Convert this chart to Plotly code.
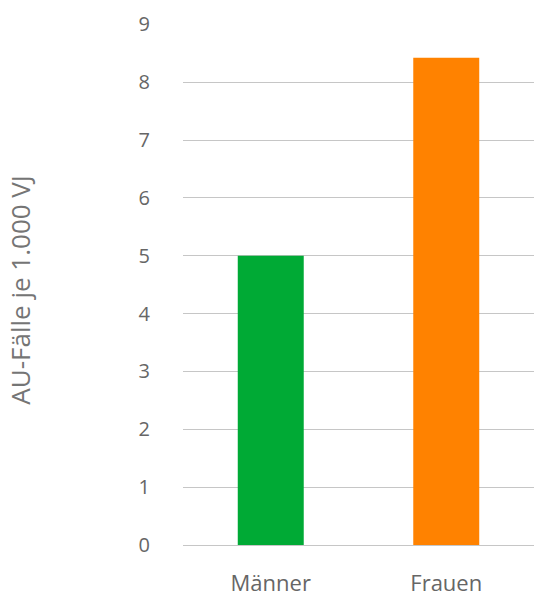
import plotly.graph_objects as go

categories = ["Männer", "Frauen"]
values = [5.0, 8.42]
colors = ["#00aa35", "#ff8200"]
y_title = "AU-Fälle je 1.000 VJ"

W, H = 534, 598
L, R, T, B = 183, 0, 24, 53

fig = go.Figure(go.Bar(x=categories, y=values, marker=dict(color=colors, line=dict(width=0)), width=0.376))

fig.update_layout(
    template="none",
    width=W, height=H,
    margin=dict(l=L, r=R, t=T, b=B, autoexpand=False),
    plot_bgcolor="white", paper_bgcolor="white",
    showlegend=False,
    font=dict(family="Open Sans, Noto Sans, sans-serif", color="#666666", size=20),
)
fig.update_yaxes(
    range=[0, 9.005], dtick=1, tick0=0,
    showgrid=True, gridcolor="#c6c6c6", gridwidth=1,
    zeroline=True, zerolinecolor="#c6c6c6", zerolinewidth=1,
    showline=False, automargin=False,
    ticks="outside", ticklen=28, tickcolor="rgba(0,0,0,0)",
    tickfont=dict(size=20, color="#666666"),
    fixedrange=True,
)
fig.update_xaxes(
    showgrid=False, showline=False, automargin=False,
    ticks="outside", ticklen=19, tickcolor="rgba(0,0,0,0)",
    tickfont=dict(size=22, color="#666666"),
)
fig.add_annotation(
    text=y_title, xref="paper", yref="paper",
    x=(20 - L) / (W - L - R), y=0.49, xanchor="center", yanchor="middle",
    textangle=-90, showarrow=False,
    font=dict(family="Open Sans, sans-serif", size=26, color="#757575"),
)

fig.write_html(
    "out.html",
    config={"displayModeBar": False},
    post_script="document.body.style.margin='0px';document.body.style.overflow='hidden';",
)
